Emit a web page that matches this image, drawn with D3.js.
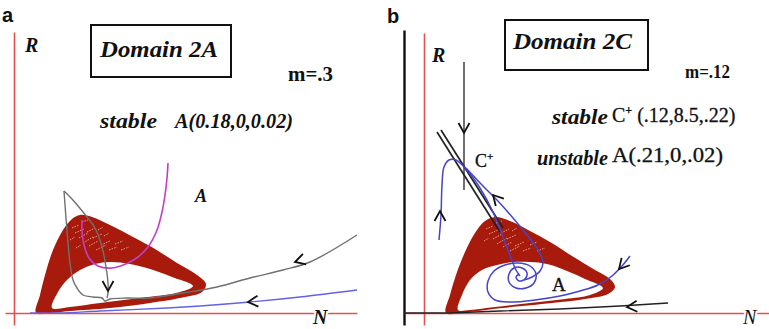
<!DOCTYPE html>
<html>
<head>
<meta charset="utf-8">
<script src="https://cdn.jsdelivr.net/npm/d3@7"></script>
<style>
  html, body { margin: 0; padding: 0; background: #fff; }
  svg { display: block; }
</style>
</head>
<body>
<div id="chart"></div>
<script>
// -----------------------------
// DATA (phase plane, N horizontal / R vertical, arbitrary units)
// -----------------------------

// Panel a : Domain 2A
const bandOuterA = [[2.2,0],[2.6,1.8],[3.1,3.8],[3.9,6.3],[4.9,8.3],[5.8,9.4],[6.6,9.8],[7.8,9.6],[9.6,8.8],[12.1,7.5],[14.1,6.4],[16.3,5.0],[18.3,3.8],[19.2,2.9],[18.8,2.1],[17.1,1.6],[13.6,1.0],[9.6,0.5],[5.6,0.2],[3.6,0]];
const bandHoleA = [[3.8,0.5],[4.4,2.1],[5.3,3.3],[6.6,4.3],[8.1,4.9],[9.6,5.1],[11.6,4.9],[13.6,4.4],[15.8,3.6],[17.9,2.7],[16.6,2.1],[12.6,1.5],[8.6,1.0],[5.6,0.6]];
// gray trajectory, in two pieces meeting at the sharp top turn
const grayInA = [[34.3,7.8],[29.6,5.1],[26.9,4.3],[23.6,3.5],[20.3,2.6],[16.9,2.0],[13.6,1.5],[11.3,1.5],[9.6,1.4],[9.1,1.2],[8.8,1.5],[7.9,1.6],[6.9,1.8],[6.3,2.5],[5.9,3.3],[5.6,5.0],[5.4,7.0],[5.2,9.5],[5.0,12.2]];
const grayOutA = [[5.0,12.2],[5.8,11.4],[6.9,10.1],[8.1,8.5],[8.8,6.6],[9.2,4.6],[9.4,3.0],[9.4,2.0],[9.3,1.5]];
const magentaA = [[15.4,15.0],[15.3,13.5],[15.1,11.8],[14.8,10.1],[14.3,8.3],[13.4,6.6],[12.4,5.6],[11.4,5.0],[9.8,4.5],[8.4,4.7],[7.5,5.5],[7.0,6.8],[6.8,8.3],[6.8,9.3]];
const blueA = [[34.3,2.3],[28.6,1.6],[23.6,1.1],[18.6,0.7],[15.3,0.5],[8.6,0.2],[4.6,0],[1.6,0]];
const hatchA = [[5.8,8.5,6.5,8.8],[6.1,8.0,7.0,8.4],[6.5,7.5,7.4,8.0],[6.9,7.0,7.9,7.6],[7.5,6.7,8.4,7.2],[5.6,7.3,6.1,7.6],[8.2,6.3,9.2,6.8],[7.3,8.1,8.1,8.5],[7.9,7.5,8.8,7.9],[8.7,6.8,9.6,7.2],[9.5,6.3,10.3,6.6],[10.1,6.9,10.9,7.2],[6.2,6.5,6.7,6.8],[9.0,7.7,9.5,8.0],[10.7,6.3,11.5,6.6],[6.8,9.1,7.4,9.3],[8.4,8.3,8.9,8.6]];
// arrows: [N, R, direction in degrees on screen]
const arrowsA = [[28.1,5.1,163],[23.4,1.1,175],[9.4,2.2,90]];

// Panel b : Domain 2C
const bandOuterB = [[2.2,0],[2.6,1.8],[3.2,3.8],[4.1,6.1],[5.1,8.0],[6.1,9.2],[7.1,9.6],[8.6,9.2],[10.6,8.2],[12.6,7.1],[14.8,5.7],[17.1,4.3],[18.6,3.4],[19.1,2.6],[18.4,1.9],[16.1,1.4],[12.8,1.0],[7.8,0.5],[4.4,0.1]];
const bandHoleB = [[3.4,0.3],[3.8,1.8],[4.6,3.3],[5.8,4.3],[7.3,4.8],[8.9,5.1],[10.6,5.1],[12.3,4.9],[14.3,4.2],[16.1,3.4],[17.9,2.5],[16.6,1.8],[14.1,1.4],[10.6,1.0],[7.1,0.6],[4.6,0.3]];
const blueB1 = [[1.5,7.3],[1.7,9.8],[1.8,12.8],[2.0,14.6],[2.5,15.3],[3.2,15.3],[4.2,14.4],[5.6,12.5],[6.9,10.1],[7.9,7.6],[8.7,5.5],[9.2,4.3],[9.6,3.7]];
const blueB2 = [[4.2,14.5],[5.8,12.8],[7.3,11.3],[8.9,9.5],[10.3,7.8],[11.4,6.3],[11.9,5.1],[11.6,4.2],[10.8,3.6],[10.0,3.3]];
const blueSpiralB = [[20.6,5.7],[19.8,4.7],[18.8,3.7],[17.4,2.8],[15.6,2.2],[13.6,1.7],[11.1,1.3],[8.6,1.1],[7.1,1.3],[6.4,2.1],[6.4,3.2],[7.0,4.2],[8.1,4.8],[9.4,5.0],[10.6,4.7],[11.2,3.9],[11.0,3.0],[10.2,2.5],[9.2,2.5],[8.5,3.1],[8.5,3.9],[9.0,4.5],[9.8,4.5],[10.3,4.0],[10.1,3.4],[9.5,3.2],[9.2,3.6],[9.5,3.9]];
const blackVertB = [[4.0,25.1],[4.0,12.3]];
const blackDiagB = [[[1.3,18.1],[7.6,8.1]],[[1.7,18.3],[7.9,8.5]]];
const blackBottomB = [[-2.0,0],[2.6,0],[7.6,0.2],[13.6,0.4],[19.6,0.7],[24.4,1.0]];
const hatchB = [[6.2,8.4,6.9,8.7],[6.5,7.9,7.4,8.3],[6.9,7.4,7.8,7.9],[7.3,6.9,8.3,7.5],[7.9,6.6,8.8,7.1],[6.0,7.2,6.5,7.5],[8.6,6.2,9.6,6.7],[7.7,8.0,8.5,8.4],[8.3,7.4,9.2,7.8],[9.1,6.7,10.0,7.1],[9.9,6.2,10.7,6.5],[10.6,6.8,11.3,7.1],[11.3,6.2,12.1,6.5],[7.2,9.0,7.8,9.2],[8.8,8.2,9.3,8.5]];
const arrowsB = [[4.0,18.0,90],[1.6,10.2,270],[6.9,11.8,227],[19.5,4.4,132],[20.3,0.6,176]];

// Text
const panelLetters = ["a", "b"];
const titles = ["Domain 2A", "Domain 2C"];
const mLabels = ["m=.3", "m=.12"];
const textA = { stable: "stable", point: "A(0.18,0,0.02)", eq: "A" };
const textB = { stable: "stable", cPoint: " (.12,8.5,.22)", unstable: "unstable", aPoint: "A(.21,0,.02)", eq: "A" };
const axisNames = ["R", "N"];

// -----------------------------
// SVG
// -----------------------------
const W = 769, H = 329;
const SERIF = "'Liberation Serif','Times New Roman',serif";
const SANS = "'Liberation Sans',Arial,sans-serif";

const svg = d3.select("#chart").append("svg")
    .attr("width", W).attr("height", H)
    .attr("viewBox", `0 0 ${W} ${H}`);
svg.append("rect").attr("width", W).attr("height", H).attr("fill", "#fff");

const RED_AXIS = "#e4504e";
const BAND = "#a81a0c";

// scales: 10 px per unit in both panels
const xA = d3.scaleLinear().domain([0, 34.3]).range([14, 357]);
const yA = d3.scaleLinear().domain([0, 28.1]).range([313, 32]);
const xB = d3.scaleLinear().domain([0, 34.5]).range([424, 769]);
const yB = d3.scaleLinear().domain([0, 28.3]).range([313, 30]);

const smooth = (x, y) => d3.line().x(d => x(d[0])).y(d => y(d[1])).curve(d3.curveCatmullRom.alpha(0.5));
const closed = (x, y) => d3.line().x(d => x(d[0])).y(d => y(d[1])).curve(d3.curveCatmullRomClosed.alpha(0.5));
const straight = (x, y) => d3.line().x(d => x(d[0])).y(d => y(d[1]));

// axis lines drawn with d3 axes (no ticks, just the domain path)
function axisLine(g, scale, orient, pos, color, width) {
    const ax = (orient === "bottom" ? d3.axisBottom(scale) : d3.axisLeft(scale))
        .tickValues([]).tickSizeOuter(0);
    const grp = g.append("g")
        .attr("transform", orient === "bottom" ? `translate(0,${pos})` : `translate(${pos},0)`)
        .call(ax);
    grp.select(".domain").attr("stroke", color).attr("stroke-width", width);
    return grp;
}

function drawBand(g, x, y, outer, hole, hatch) {
    const c = closed(x, y);
    g.append("path")
        .attr("d", c(outer) + c(hole))
        .attr("fill", BAND)
        .attr("fill-rule", "evenodd");
    g.selectAll(null).data(hatch).join("line")
        .attr("x1", d => x(d[0])).attr("y1", d => y(d[1]))
        .attr("x2", d => x(d[2])).attr("y2", d => y(d[3]))
        .attr("stroke", "#f0bcae").attr("stroke-width", 1)
        .attr("stroke-dasharray", "1.5,1.2").attr("opacity", 0.85);
}

function drawArrows(g, x, y, arrows) {
    g.selectAll(null).data(arrows).join("path")
        .attr("d", "M-10,-5.5 L0,0 L-10,5.5")
        .attr("transform", d => `translate(${x(d[0])},${y(d[1])}) rotate(${d[2]})`)
        .attr("fill", "none").attr("stroke", "#111")
        .attr("stroke-width", 1.8).attr("stroke-linejoin", "miter");
}

// serif labels; "heavy" adds a thin stroke to thicken the glyphs
function label(g, txt, xPos, yPos, opts) {
    const t = g.append("text")
        .attr("x", xPos).attr("y", yPos)
        .attr("font-family", opts.family || SERIF)
        .attr("font-size", opts.size)
        .attr("font-weight", opts.weight || "normal")
        .attr("font-style", opts.style || "normal")
        .attr("fill", "#111")
        .text(txt);
    if (opts.heavy) t.attr("stroke", "#111").attr("stroke-width", opts.heavy);
    if (opts.len) t.attr("textLength", opts.len).attr("lengthAdjust", "spacingAndGlyphs");
    return t;
}

// -----------------------------
// PANEL A
// -----------------------------
const gA = svg.append("g").attr("class", "panel-a");

drawBand(gA, xA, yA, bandOuterA, bandHoleA, hatchA);

axisLine(gA, xA.copy().domain([-0.9, 34.3]).range([xA(-0.9), xA(34.3)]), "bottom", yA(0), RED_AXIS, 1.6);
axisLine(gA, yA.copy().domain([-1.2, 28.1]).range([yA(-1.2), yA(28.1)]), "left", xA(0), RED_AXIS, 1.6);

gA.append("path").attr("d", smooth(xA, yA)(blueA))
    .attr("fill", "none").attr("stroke", "#6262e6").attr("stroke-width", 1.3);
gA.append("path").attr("d", smooth(xA, yA)(magentaA))
    .attr("fill", "none").attr("stroke", "#c23cc8").attr("stroke-width", 1.6);
[grayInA, grayOutA].forEach(c => {
    gA.append("path").attr("d", smooth(xA, yA)(c))
        .attr("fill", "none").attr("stroke", "#707070").attr("stroke-width", 1.4);
});
drawArrows(gA, xA, yA, arrowsA);

label(gA, panelLetters[0], 2, 22, { family: SANS, size: 20, weight: "bold" });
label(gA, axisNames[0], 25, 52, { size: 20, weight: "bold", style: "italic" });
gA.append("rect").attr("x", 91).attr("y", 25).attr("width", 140).attr("height", 52)
    .attr("fill", "none").attr("stroke", "#111").attr("stroke-width", 2);
label(gA, titles[0], 100, 57, { size: 23, weight: "bold", style: "italic", len: 118 });
label(gA, mLabels[0], 288, 81, { size: 20, weight: "bold", len: 45 });
label(gA, textA.stable, 100, 128, { size: 21, weight: "bold", style: "italic", len: 57 });
label(gA, textA.point, 175, 128, { size: 21, weight: "bold", style: "italic", len: 118 });
label(gA, textA.eq, 195, 202, { size: 18, weight: "bold", style: "italic" });
label(gA, axisNames[1], 313, 324, { size: 20, weight: "bold", style: "italic" })
    .attr("stroke", "#fff").attr("stroke-width", 4).attr("paint-order", "stroke");

// -----------------------------
// PANEL B
// -----------------------------
const gB = svg.append("g").attr("class", "panel-b");

drawBand(gB, xB, yB, bandOuterB, bandHoleB, hatchB);

axisLine(gB, xB.copy().domain([-1.9, 34.5]).range([xB(-1.9), xB(34.5)]), "bottom", yB(0), RED_AXIS, 1.6);
axisLine(gB, yB.copy().domain([-1.2, 28.0]).range([yB(-1.2), yB(28.0)]), "left", xB(0), RED_AXIS, 1.6);
axisLine(gB, yB.copy().domain([-1.2, 28.3]).range([yB(-1.2), yB(28.3)]), "left", xB(-2.0), "#111", 2.4);

gB.append("path").attr("d", straight(xB, yB)(blackBottomB))
    .attr("fill", "none").attr("stroke", "#222").attr("stroke-width", 1.4);
gB.append("path").attr("d", straight(xB, yB)(blackVertB))
    .attr("fill", "none").attr("stroke", "#333").attr("stroke-width", 1.4);
gB.selectAll(null).data(blackDiagB).join("path")
    .attr("d", d => straight(xB, yB)(d))
    .attr("fill", "none").attr("stroke", "#222").attr("stroke-width", 1.7);

[blueB1, blueB2, blueSpiralB].forEach(c => {
    gB.append("path").attr("d", smooth(xB, yB)(c))
        .attr("fill", "none").attr("stroke", "#4444cc").attr("stroke-width", 1.5);
});
drawArrows(gB, xB, yB, arrowsB);

label(gB, panelLetters[1], 387, 23, { family: SANS, size: 20, weight: "bold" });
label(gB, axisNames[0], 432, 62, { size: 20, weight: "bold", style: "italic" });
gB.append("rect").attr("x", 505).attr("y", 20).attr("width", 143).attr("height", 50)
    .attr("fill", "none").attr("stroke", "#111").attr("stroke-width", 2);
label(gB, titles[1], 513, 49, { size: 24, weight: "bold", style: "italic", len: 119 });
label(gB, mLabels[1], 685, 78, { size: 19, weight: "bold", len: 45 });
label(gB, textB.stable, 552, 124, { size: 22, style: "italic", weight: "bold", len: 56 });
const cp = label(gB, "C", 612, 122, { size: 20, heavy: 0.3 });
cp.append("tspan").attr("dy", -8).attr("font-size", 12).attr("font-weight", "bold").text("+");
cp.append("tspan").attr("dy", 8).text(textB.cPoint);
label(gB, textB.unstable, 537, 165, { size: 22, style: "italic", weight: "bold", len: 71 });
label(gB, textB.aPoint, 612, 162, { size: 20, len: 111, heavy: 0.3 });
const cl = label(gB, "C", 475, 167, { size: 18, heavy: 0.3 });
cl.append("tspan").attr("dy", -7).attr("font-size", 11).attr("font-weight", "bold").text("+");
label(gB, textB.eq, 552, 291, { size: 19, heavy: 0.3 });
label(gB, axisNames[1], 743, 324, { size: 20, style: "italic" })
    .attr("stroke", "#fff").attr("stroke-width", 4).attr("paint-order", "stroke");
</script>
</body>
</html>
